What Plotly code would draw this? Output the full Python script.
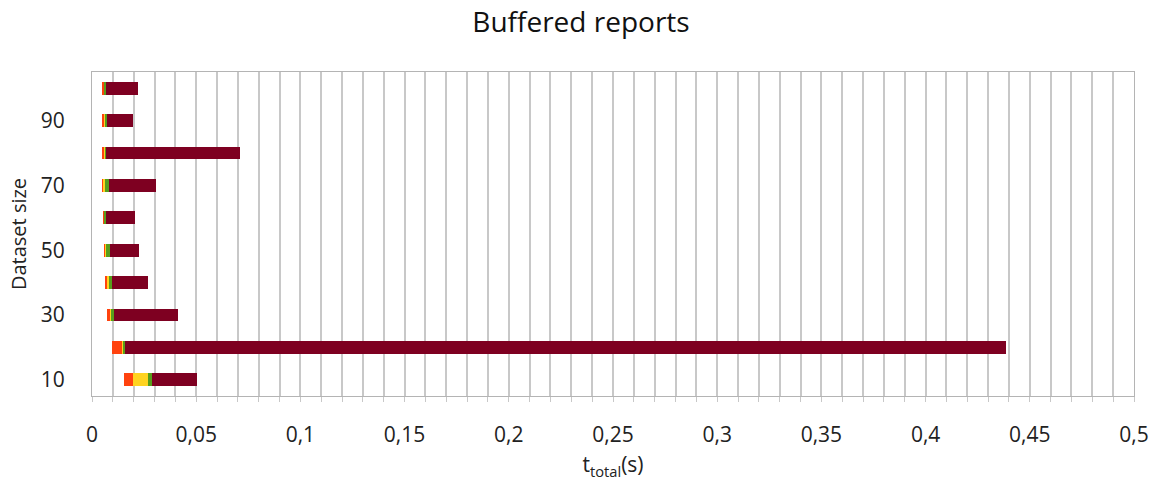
import plotly.graph_objects as go

# Dataset sizes (one horizontal bar each)
sizes = [10, 20, 30, 40, 50, 60, 70, 80, 90, 100]

# Stacked phase durations in seconds
t_offset = [0.0154, 0.0098, 0.0072, 0.0066, 0.0059, 0.0054, 0.0051, 0.0051, 0.0051, 0.0051]
t_orange = [0.0041, 0.0046, 0.0018, 0.0009, 0.0007, 0.0006, 0.0006, 0.0009, 0.0008, 0.0009]
t_yellow = [0.0075, 0.0006, 0.0003, 0.0008, 0.0002, 0.0002, 0.0005, 0.0005, 0.0002, 0.0002]
t_green = [0.0018, 0.0008, 0.0011, 0.0013, 0.0017, 0.0007, 0.0018, 0.0002, 0.0012, 0.0005]
t_red = [0.0214, 0.4228, 0.0307, 0.0174, 0.0142, 0.0139, 0.0226, 0.0643, 0.0122, 0.0154]

series = [
    ("offset", t_offset, "rgba(0,0,0,0)"),
    ("phase 1", t_orange, "#FF420E"),
    ("phase 2", t_yellow, "#FFD320"),
    ("phase 3", t_green, "#579D1C"),
    ("phase 4", t_red, "#7E0021"),
]

fig = go.Figure()
for name, vals, color in series:
    fig.add_trace(go.Bar(
        x=vals, y=sizes, orientation="h", name=name,
        width=4, marker=dict(color=color, line=dict(width=0)),
        showlegend=False, hoverinfo="x+y",
    ))

font = "Open Sans, Lato, sans-serif"
fig.update_layout(
    barmode="stack",
    width=1162, height=488,
    margin=dict(l=92, r=28, t=72, b=92),
    paper_bgcolor="white", plot_bgcolor="white",
    separators=", ",
    font=dict(family=font, color="#222"),
    title=dict(text="Buffered reports", x=0.5, xanchor="center", y=0.955,
               yanchor="middle", font=dict(size=28, color="#111")),
    xaxis=dict(
        range=[0, 0.5], tickvals=[i * 0.05 for i in range(11)],
        tickformat="~g", tickfont=dict(size=21),
        showgrid=True, gridcolor="#c8c8c8", gridwidth=1.5,
        minor=dict(dtick=0.01, showgrid=True, gridcolor="#c8c8c8", gridwidth=1.5,
                   ticks="outside", ticklen=5, tickcolor="#c8c8c8"),
        ticks="outside", ticklen=5, tickcolor="#c8c8c8",
        showline=True, linecolor="#b4b4b4", linewidth=1, mirror=True,
        zeroline=False, ticklabelstandoff=15,
        title=dict(text="t<sub>total</sub>(s)", font=dict(size=21), standoff=10),
    ),
    yaxis=dict(
        range=[5, 105], tickvals=[10, 30, 50, 70, 90],
        tickfont=dict(size=21), showgrid=False,
        showline=True, linecolor="#b4b4b4", linewidth=1, mirror=True,
        zeroline=False, ticks="", ticklabelstandoff=22,
        title=dict(text="Dataset size", font=dict(size=20), standoff=8),
    ),
)

fig.write_html("out.html")
